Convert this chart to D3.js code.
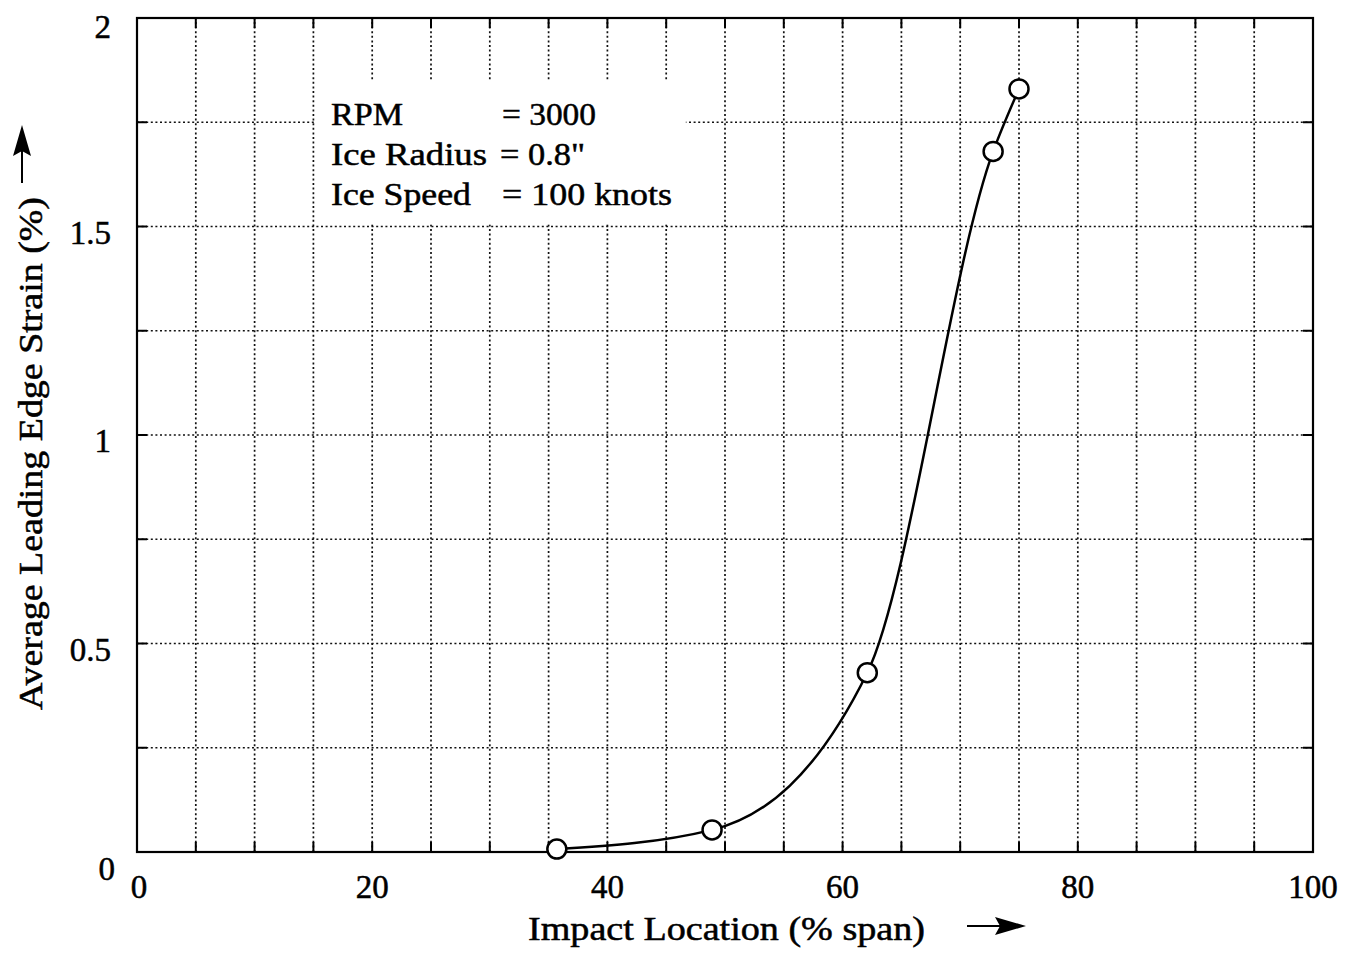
<!DOCTYPE html>
<html>
<head>
<meta charset="utf-8">
<script src="https://cdn.jsdelivr.net/npm/d3@7"></script>
<style>
  body { margin: 0; background: white; }
  svg { display: block; font-family: "Liberation Serif", "DejaVu Serif", serif; }
  text { stroke: #000; stroke-width: 0.5px; }
</style>
</head>
<body>
<script>
const spanPct = [35.7, 48.9, 62.1, 72.8, 75.0]
const strainPct = [0.007, 0.053, 0.43, 1.68, 1.83]
const xTicks = [0, 20, 40, 60, 80, 100]
const yTicks = [0, 0.5, 1, 1.5, 2]
const xGrid = d3.range(0, 101, 5)
const yGrid = d3.range(0, 2.01, 0.25)
const noteKeys = ["RPM", "Ice Radius", "Ice Speed"]
const noteVals = ["= 3000", "= 0.8\"", "= 100 knots"]

const width = 1359, height = 953
const m = { left: 137, right: 46, top: 18, bottom: 101 }

const svg = d3.select("body").append("svg").attr("width", width).attr("height", height)
const x = d3.scaleLinear([0, 100], [m.left, width - m.right])
const y = d3.scaleLinear([0, 2], [height - m.bottom, m.top])

// dotted grid
const grid = svg.append("g").attr("stroke", "#111").attr("stroke-width", 1.7).attr("stroke-dasharray", "2,2.6")
grid.selectAll(".vx").data(xGrid.slice(1, -1)).join("line")
  .attr("x1", d => x(d)).attr("x2", d => x(d)).attr("y1", y(0)).attr("y2", y(2))
grid.selectAll(".hy").data(yGrid.slice(1, -1)).join("line")
  .attr("y1", d => y(d)).attr("y2", d => y(d)).attr("x1", x(0)).attr("x2", x(100))

// inward ticks on all four sides
const ticks = svg.append("g").attr("stroke", "#000").attr("stroke-width", 2)
const tl = 10
xGrid.forEach(d => {
  ticks.append("line").attr("x1", x(d)).attr("x2", x(d)).attr("y1", y(0)).attr("y2", y(0) - tl)
  ticks.append("line").attr("x1", x(d)).attr("x2", x(d)).attr("y1", y(2)).attr("y2", y(2) + tl)
})
yGrid.forEach(d => {
  ticks.append("line").attr("y1", y(d)).attr("y2", y(d)).attr("x1", x(0)).attr("x2", x(0) + tl)
  ticks.append("line").attr("y1", y(d)).attr("y2", y(d)).attr("x1", x(100)).attr("x2", x(100) - tl)
})

// frame
svg.append("rect").attr("x", x(0)).attr("y", y(2)).attr("width", x(100) - x(0)).attr("height", y(0) - y(2))
  .attr("fill", "none").attr("stroke", "#000").attr("stroke-width", 2.2)

// annotation box (white, hides grid)
svg.append("rect").attr("x", x(15) + 2).attr("y", y(1.85)).attr("width", x(46.5) - x(15)).attr("height", y(1.505) - y(1.85))
  .attr("fill", "white")
const note = svg.append("g").attr("font-size", 32).attr("fill", "#000")
const keyLen = [72, 156, 140]
const valLen = [94, 85, 170]
const valX = [502, 500, 502]
noteKeys.forEach((k, i) => {
  note.append("text").attr("x", 331).attr("y", 125 + i * 40).attr("textLength", keyLen[i])
    .attr("lengthAdjust", "spacingAndGlyphs").text(k)
  note.append("text").attr("x", valX[i]).attr("y", 125 + i * 40).attr("textLength", valLen[i])
    .attr("lengthAdjust", "spacingAndGlyphs").text(noteVals[i])
})

// tick labels
svg.append("g").attr("font-size", 33).attr("text-anchor", "middle")
  .selectAll("text").data(xTicks).join("text")
  .attr("x", d => x(d) + (d === 0 ? 2 : 0)).attr("y", 898).text(d => d)
svg.append("g").attr("font-size", 33).attr("text-anchor", "end")
  .selectAll("text").data(yTicks).join("text")
  .attr("x", d => d === 0 ? 115 : 111).attr("y", d => y(d) + (d === 0 ? 28 : d === 2 ? 20 : 17)).text(d => d)

// axis titles
svg.append("text").attr("x", 528).attr("y", 940).attr("font-size", 33)
  .attr("textLength", 397).attr("lengthAdjust", "spacingAndGlyphs")
  .text("Impact Location (% span)")
svg.append("line").attr("x1", 967).attr("x2", 1002).attr("y1", 926).attr("y2", 926).attr("stroke", "#000").attr("stroke-width", 2)
svg.append("path").attr("d", "M995,917 L1026,926 L995,935 L1000,926 Z").attr("fill", "#000")

svg.append("text").attr("transform", "translate(42,710) rotate(-90)").attr("font-size", 33)
  .attr("textLength", 513).attr("lengthAdjust", "spacingAndGlyphs")
  .text("Average Leading Edge Strain (%)")
svg.append("line").attr("x1", 22).attr("x2", 22).attr("y1", 183).attr("y2", 150).attr("stroke", "#000").attr("stroke-width", 2)
svg.append("path").attr("d", "M13,156 L22,125 L31,156 L22,151 Z").attr("fill", "#000")

// curve and points
const pts = spanPct.map((v, i) => [v, strainPct[i]])
svg.append("path").datum(pts)
  .attr("d", d3.line().x(d => x(d[0])).y(d => y(d[1])).curve(d3.curveMonotoneX))
  .attr("fill", "none").attr("stroke", "#000").attr("stroke-width", 2.5)
svg.append("g").selectAll("circle").data(pts).join("circle")
  .attr("cx", d => x(d[0])).attr("cy", d => y(d[1])).attr("r", 9.5)
  .attr("fill", "white").attr("stroke", "#000").attr("stroke-width", 2.5)
</script>
</body>
</html>
